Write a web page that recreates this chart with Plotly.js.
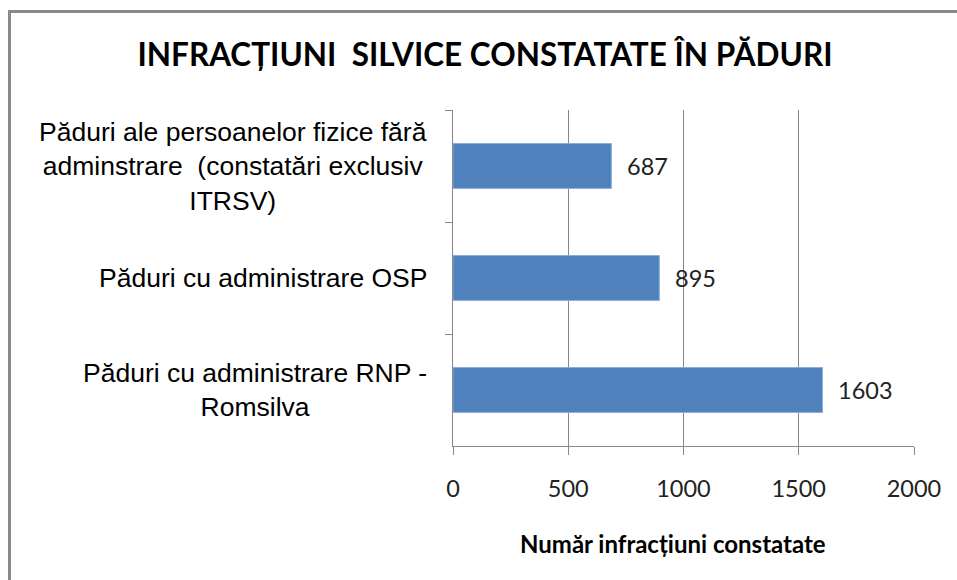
<!DOCTYPE html>
<html>
<head>
<meta charset="utf-8">
<script src="https://cdn.plot.ly/plotly-3.0.1.min.js"></script>
<style>
  html, body { margin: 0; padding: 0; background: #fff; }
  #wrap { position: relative; width: 957px; height: 580px; overflow: hidden; }
  #frame { position: absolute; left: 8px; top: 10px; width: 2000px; height: 2000px;
           border-top: 3px solid #8a8a8a; border-left: 3px solid #8a8a8a; pointer-events: none; z-index: 5; }
  #chart { position: absolute; left: 0; top: 0; width: 957px; height: 580px; }
</style>
</head>
<body>
<div id="wrap">
  <div id="chart"></div>
  <div id="frame"></div>
</div>
<script>
const categories = [
  "Păduri ale persoanelor fizice fără<br>adminstrare  (constatări exclusiv<br>ITRSV)",
  "Păduri cu administrare OSP",
  "Păduri cu administrare RNP -<br>Romsilva"
];
const values = [687, 895, 1603];
const xTicks = [0, 500, 1000, 1500, 2000];
const chartTitle = "INFRACȚIUNI  SILVICE CONSTATATE ÎN PĂDURI";
const xTitle = "Număr infracțiuni constatate";

const calib = "Lato, 'Open Sans', sans-serif";
const arial = "'Liberation Sans', Arial, sans-serif";

const trace = {
  type: 'bar',
  orientation: 'h',
  x: values,
  y: categories,
  marker: { color: '#4f81bd', line: { color: '#8eaad6', width: 1 } },
  width: 0.4,
  hoverinfo: 'skip'
};

const annotations = [];
categories.forEach((c, i) => {
  annotations.push({
    xref: 'paper', yref: 'y', x: 0, y: c,
    xanchor: 'right', yanchor: 'middle', xshift: -24,
    text: c, showarrow: false, align: 'center',
    font: { family: arial, size: 26.5, color: '#000' }
  });
  annotations.push({
    xref: 'x', yref: 'y', x: values[i], y: c,
    xanchor: 'left', yanchor: 'middle', xshift: 14,
    text: String(values[i]), showarrow: false,
    font: { family: calib, size: 23.5, color: '#222' }
  });
});
// x-axis title (slightly left of plot centre, as in the reference)
annotations.push({
  xref: 'paper', yref: 'paper', x: (673 - 453) / 461, y: 0,
  xanchor: 'center', yanchor: 'middle', yshift: -97,
  text: '<b>' + xTitle + '</b>', showarrow: false,
  font: { family: calib, size: 24, color: '#000' }
});

const layout = {
  width: 957, height: 580,
  margin: { l: 453, r: 43, t: 110, b: 134, pad: 0 },
  paper_bgcolor: '#fff', plot_bgcolor: '#fff',
  showlegend: false,
  title: {
    text: '<b>' + chartTitle + '</b>',
    font: { family: calib, size: 31.5, color: '#000' },
    x: 485 / 957, xref: 'container', xanchor: 'center',
    y: 1 - 55 / 580, yref: 'container', yanchor: 'middle'
  },
  xaxis: {
    range: [0, 2000], tickvals: xTicks, ticktext: xTicks.map(String),
    showgrid: true, gridcolor: '#878787', gridwidth: 1,
    zeroline: false, showline: true, linecolor: '#878787', linewidth: 1,
    ticks: 'outside', ticklen: 8, tickcolor: '#878787',
    ticklabelstandoff: 14,
    tickfont: { family: calib, size: 23.5, color: '#222' },
    fixedrange: true
  },
  yaxis: {
    type: 'category', categoryorder: 'array', categoryarray: categories,
    autorange: 'reversed',
    showticklabels: false, showgrid: false, zeroline: false,
    showline: true, linecolor: '#878787', linewidth: 1,
    ticks: 'outside', tickson: 'boundaries', ticklen: 7, tickcolor: '#878787',
    fixedrange: true
  },
  annotations: annotations
};

Plotly.newPlot('chart', [trace], layout, { displayModeBar: false, staticPlot: true });
</script>
</body>
</html>
